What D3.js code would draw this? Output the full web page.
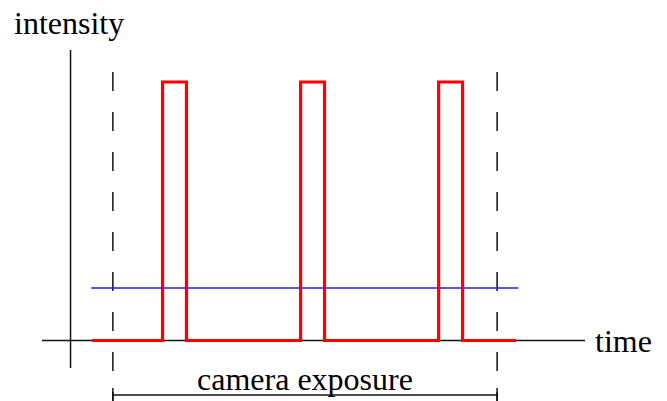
<!DOCTYPE html>
<html>
<head>
<meta charset="utf-8">
<script src="https://cdn.jsdelivr.net/npm/d3@7"></script>
<style>
  body { margin: 0; background: #fff; }
  text { font-family: "Liberation Serif", "Times New Roman", Times, "DejaVu Serif", serif; }
</style>
</head>
<body>
<div id="container"></div>
<script>
// time in arbitrary units, intensity normalised to pulse height
const timeDomain = [-6.2, 111.8];
const intensityAxis = [-0.106, 1.124];
const pulseStarts = [20, 50, 80];
const pulseWidth = 5.2;
const signalRange = [4.7, 96.8];
const meanLevel = 0.203;
const meanRange = [4.5, 97.3];
const exposure = [9.2, 92.7];
const labels = { y: "intensity", x: "time", exposure: "camera exposure" };

const width = 667;
const height = 401;
const svg = d3.select("#container").append("svg")
  .attr("width", width)
  .attr("height", height);

const x = d3.scaleLinear().domain(timeDomain).range([42, 585]);
const y = d3.scaleLinear().domain([0, 1]).range([340.5, 82]);

// axes
svg.append("line")
  .attr("x1", x(timeDomain[0])).attr("x2", x(timeDomain[1]))
  .attr("y1", y(0)).attr("y2", y(0))
  .attr("stroke", "#111").attr("stroke-width", 1.5);
svg.append("line")
  .attr("x1", x(0)).attr("x2", x(0))
  .attr("y1", y(intensityAxis[0])).attr("y2", y(intensityAxis[1]))
  .attr("stroke", "#111").attr("stroke-width", 1.5);

svg.append("text").text(labels.y)
  .attr("x", 14).attr("y", 34)
  .attr("font-size", 32);
svg.append("text").text(labels.x)
  .attr("x", x(timeDomain[1]) + 10).attr("y", 352)
  .attr("font-size", 32);

// exposure window
svg.selectAll(".expo").data(exposure).enter()
  .append("line")
  .attr("class", "expo")
  .attr("x1", d => x(d)).attr("x2", d => x(d))
  .attr("y1", 72).attr("y2", 401)
  .attr("stroke", "#111").attr("stroke-width", 1.5)
  .attr("stroke-dasharray", "19,21");

svg.append("line")
  .attr("x1", x(exposure[0])).attr("x2", x(exposure[1]))
  .attr("y1", 395).attr("y2", 395)
  .attr("stroke", "#111").attr("stroke-width", 1.5);
svg.selectAll(".tick-end").data(exposure).enter()
  .append("line")
  .attr("x1", d => x(d)).attr("x2", d => x(d))
  .attr("y1", 388).attr("y2", 401)
  .attr("stroke", "#111").attr("stroke-width", 1.5);
svg.append("text").text(labels.exposure)
  .attr("x", (x(exposure[0]) + x(exposure[1])) / 2).attr("y", 390)
  .attr("text-anchor", "middle")
  .attr("font-size", 32);

// mean intensity
svg.append("line")
  .attr("x1", x(meanRange[0])).attr("x2", x(meanRange[1]))
  .attr("y1", y(meanLevel)).attr("y2", y(meanLevel))
  .attr("stroke", "#1a1aff").attr("stroke-width", 1.5);

// pulse train
let pts = [[signalRange[0], 0]];
pulseStarts.forEach(s => {
  pts.push([s, 0], [s, 1], [s + pulseWidth, 1], [s + pulseWidth, 0]);
});
pts.push([signalRange[1], 0]);

svg.append("path")
  .attr("d", d3.line().x(d => x(d[0])).y(d => y(d[1]))(pts))
  .attr("fill", "none")
  .attr("stroke", "#ff0000")
  .attr("stroke-width", 3.2)
  .attr("stroke-linejoin", "miter");
</script>
</body>
</html>
